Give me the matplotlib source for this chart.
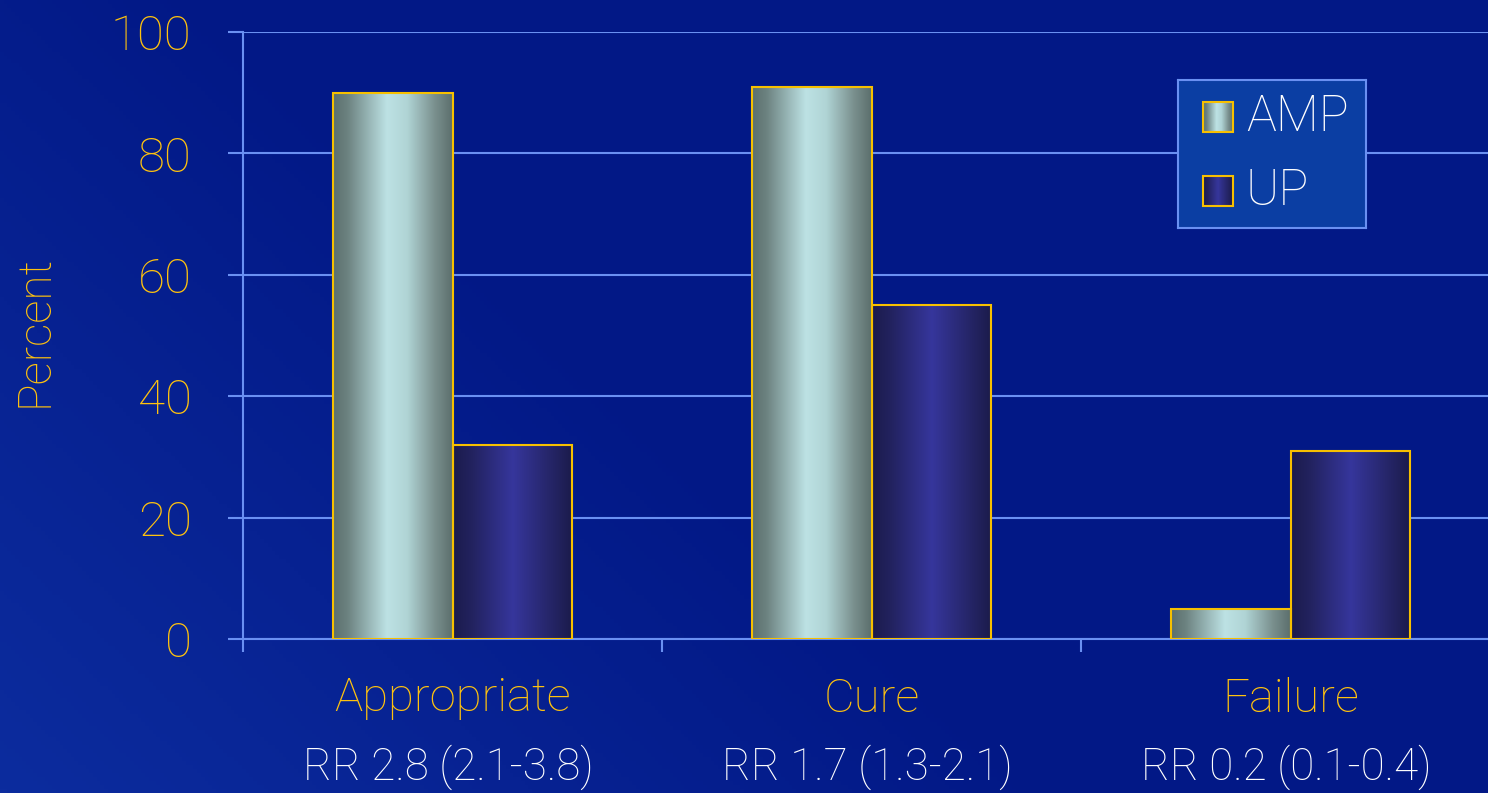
import numpy as np
import matplotlib
matplotlib.use("Agg")
import matplotlib.pyplot as plt
from matplotlib.colors import LinearSegmentedColormap
from matplotlib.patches import Rectangle

categories = ["Appropriate", "Cure", "Failure"]
rr_labels = ["RR 2.8 (2.1-3.8)", "RR 1.7 (1.3-2.1)", "RR 0.2 (0.1-0.4)"]
amp_values = [90, 91, 5]
up_values = [32, 55, 31]
series_names = ["AMP", "UP"]
yticks = [0, 20, 40, 60, 80, 100]

BG = "#031b8a"
GRID = "#6a90f2"
YELLOW = "#ffc20e"
EDGE = "#f7c000"
FONT = ["Roboto", "DejaVu Sans"]
FW = "light"

amp_cmap = LinearSegmentedColormap.from_list(
    "amp", [(0, "#5c706e"), (0.12, "#6c8280"), (0.45, "#bde2e4"), (0.62, "#b0d4d5"), (0.85, "#7a908e"), (1, "#5b6e6c")])
up_cmap = LinearSegmentedColormap.from_list(
    "up", [(0, "#1b1b4c"), (0.15, "#22225e"), (0.5, "#36369c"), (0.8, "#26266a"), (1, "#1b1b4a")])

fig = plt.figure(figsize=(14.88, 7.93), dpi=100)
fig.patch.set_facecolor(BG)

# subtle background shading
bgax = fig.add_axes([0, 0, 1, 1], zorder=-10)
yy, xx = np.mgrid[0:1:200j, 0:1:400j]
shade = np.clip(1 - (xx * 1.4 + yy * 0.8), 0, 1)
bg_cmap = LinearSegmentedColormap.from_list("bg", ["#021886", "#0c2c9e"])
bgax.imshow(shade, cmap=bg_cmap, vmin=0, vmax=1, aspect="auto", extent=(0, 1, 0, 1), origin="lower")
bgax.set_axis_off()

left, right = 243 / 1488, 1500 / 1488
bottom, top = 1 - 639 / 793, 1 - 32 / 793
ax = fig.add_axes([left, bottom, right - left, top - bottom])
ax.set_facecolor("none")

n = len(categories)
x = np.arange(n) + 0.5
w = 0.286
grad = np.linspace(0, 1, 256).reshape(1, -1)

for i in range(n):
    for vals, cmap, x0 in ((amp_values, amp_cmap, x[i] - w), (up_values, up_cmap, x[i])):
        h = vals[i]
        ax.imshow(grad, cmap=cmap, aspect="auto", extent=(x0, x0 + w, 0, h), zorder=3, interpolation="bicubic")
        ax.bar(x0, h, width=w, align="edge", facecolor="none", edgecolor=EDGE, linewidth=1.5, zorder=4)

ax.set_xlim(0, 3)
ax.set_ylim(0, 100)
ax.set_yticks(yticks)
ax.set_yticklabels([str(t) for t in yticks], fontsize=35.5, color=YELLOW, family=FONT, fontweight=FW)
ax.yaxis.grid(True, color=GRID, linewidth=1.5, zorder=1)
ax.tick_params(axis="y", length=11, width=1.5, color=GRID, pad=26)

ax.set_xticks(x)
ax.set_xticklabels(categories, fontsize=34, color=YELLOW, family=FONT, fontweight=FW)
ax.tick_params(axis="x", which="major", length=0, pad=27)
ax.set_xticks(np.arange(n + 1), minor=True)
ax.tick_params(axis="x", which="minor", length=9.5, width=1.5, color=GRID)

for s in ["top", "right"]:
    ax.spines[s].set_visible(False)
for s in ["left", "bottom"]:
    ax.spines[s].set_color(GRID)
    ax.spines[s].set_linewidth(1.5)

for i, lab in enumerate(rr_labels):
    ax.annotate(lab, xy=(x[i], 0), xycoords=("data", "axes fraction"), xytext=(-3, -92),
                textcoords="offset points", ha="center", va="center", fontsize=31.7,
                color="white", family=FONT, fontweight=FW, annotation_clip=False)

fig.text(35 / 1488, 1 - 331 / 793, "Percent", rotation=90, ha="center", va="center",
         fontsize=33, color=YELLOW, family=FONT, fontweight=FW)

# legend box
lx0, ly0, lx1, ly1 = 1178, 80, 1366, 228
lax = fig.add_axes([lx0 / 1488, 1 - ly1 / 793, (lx1 - lx0) / 1488, (ly1 - ly0) / 793])
lax.set_facecolor("#0b3ea3")
for s in lax.spines.values():
    s.set_color(GRID)
    s.set_linewidth(1.5)
lax.set_xticks([])
lax.set_yticks([])
for name, cmap, cy in ((series_names[0], amp_cmap, 117), (series_names[1], up_cmap, 191)):
    sx0, sy = 1203 - lx0, cy - ly0
    lax.imshow(grad, cmap=cmap, aspect="auto", extent=(sx0, sx0 + 30, sy + 15, sy - 15), zorder=2)
    lax.add_patch(Rectangle((sx0, sy - 15), 30, 30, facecolor="none", edgecolor=EDGE, linewidth=1.5, zorder=3))
    lax.text(1246 - lx0, sy, name, color="white", fontsize=36, family=FONT, fontweight=FW,
             va="center", ha="left")
lax.set_xlim(0, lx1 - lx0)
lax.set_ylim(ly1 - ly0, 0)
lax.set_aspect("auto")

fig.savefig("out.png", dpi=100, facecolor=fig.get_facecolor())
